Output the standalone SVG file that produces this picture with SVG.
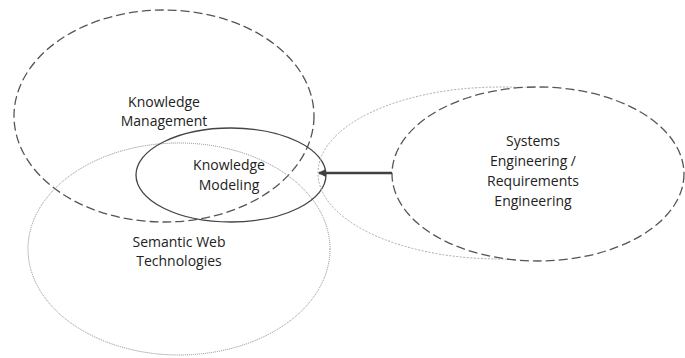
<svg xmlns="http://www.w3.org/2000/svg" width="685" height="358" viewBox="0 0 685 358">
<defs>
<style>
.lbl{font-family:"Open Sans","Liberation Sans",sans-serif;font-size:14px;fill:#222;text-anchor:middle}
.dash{fill:none;stroke:#555;stroke-width:1.3;stroke-dasharray:9 4}
.dot{fill:none;stroke:#888;stroke-width:1;stroke-dasharray:1 1}
.solid{fill:none;stroke:#444;stroke-width:1.3}
.faint{fill:none;stroke:#aaa;stroke-width:1;stroke-dasharray:2 1.5}
</style>
<marker id="ah" markerWidth="8" markerHeight="8" refX="7" refY="4" orient="auto" markerUnits="userSpaceOnUse">
<path d="M0,0 L8,4 L0,8 Z" fill="#404040"/>
</marker>
</defs>
<rect width="685" height="358" fill="#fff"/>
<g id="km">
<ellipse class="dash" cx="164" cy="116" rx="150" ry="106"/>
<text class="lbl" x="164" y="107">Knowledge</text>
<text class="lbl" x="164" y="126">Management</text>
</g>
<g id="sw">
<ellipse class="dot" cx="179" cy="249" rx="151" ry="106"/>
<text class="lbl" x="179" y="247">Semantic Web</text>
<text class="lbl" x="179" y="266">Technologies</text>
</g>
<g id="kmod">
<ellipse class="solid" cx="231" cy="175" rx="95" ry="47"/>
<text class="lbl" x="229" y="170">Knowledge</text>
<text class="lbl" x="229" y="190">Modeling</text>
</g>
<g id="shadow">
<ellipse class="faint" cx="500" cy="173" rx="182" ry="86"/>
</g>
<g id="se">
<ellipse class="dash" cx="538" cy="174" rx="146" ry="87" style="fill:#fff"/>
<text class="lbl" x="533" y="146">Systems</text>
<text class="lbl" x="533" y="166">Engineering /</text>
<text class="lbl" x="533" y="186">Requirements</text>
<text class="lbl" x="533" y="206">Engineering</text>
</g>
<g id="connectors">
<line x1="392" y1="173" x2="319" y2="173" stroke="#404040" stroke-width="2.5" marker-end="url(#ah)"/>
</g>
</svg>
